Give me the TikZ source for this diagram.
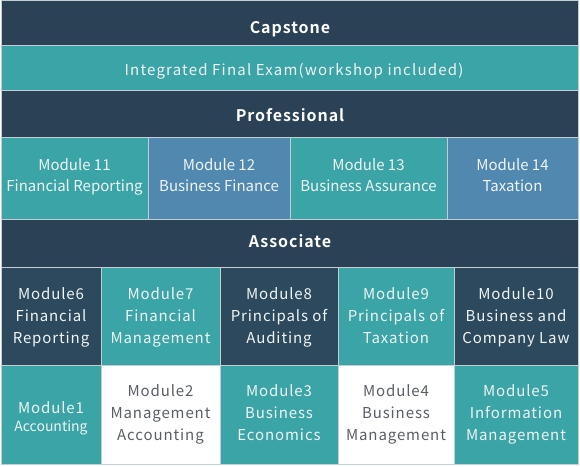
\documentclass[tikz,border=0pt]{standalone}
\usepackage{fontspec}
\setmainfont{Noto Sans CJK SC}
\newfontfamily\spaced[LetterSpace=6]{Noto Sans CJK SC}
\newfontfamily\wide[LetterSpace=8]{Noto Sans CJK SC}
\newfontfamily\headf[LetterSpace=6]{Noto Sans CJK SC Bold}
\definecolor{navy}{HTML}{2B4256}
\definecolor{navyb}{HTML}{2D495E}
\definecolor{teal}{HTML}{3AA4A7}
\definecolor{steel}{HTML}{5088B0}
\definecolor{frame}{HTML}{C5CDD4}
\definecolor{lighttxt}{HTML}{F0F5F5}
\definecolor{graytxt}{HTML}{5A5F66}
\tikzset{
  cell/.style={draw=frame, line width=1pt, inner sep=0pt, align=center, text=lighttxt,
    execute at end node={\strut}},
  band/.style={draw=frame, line width=1pt, inner sep=0pt, fill=navy},
  tealband/.style={band, fill=teal},
  headtxt/.style={anchor=base, inner sep=0pt, text=white, font=\headf\fontsize{16}{20}\selectfont},
  bandtxt/.style={anchor=base, inner sep=0pt, text=lighttxt, font=\wide\fontsize{15}{20}\selectfont},
  profteal/.style={cell, fill=teal, font=\fontsize{15}{21}\selectfont},
  profblue/.style={cell, fill=steel, font=\fontsize{15}{21}\selectfont},
  atxt/.style={inner sep=0pt, align=center, text=lighttxt, font=\spaced\fontsize{15}{22}\selectfont,
    execute at end node={\strut}},
  acell/.style={draw=frame, line width=1pt, inner sep=0pt},
  assocdark/.style={acell, fill=navyb},
  assocteal/.style={acell, fill=teal},
  assocwhite/.style={acell, fill=white},
  r1/.style={label={[atxt, yshift=-3]center:{#1}}},
  r2/.style={label={[atxt, yshift=-1]center:{#1}}},
  r2g/.style={label={[atxt, text=graytxt, yshift=-1]center:{#1}}},
}
\begin{document}
\begin{tikzpicture}[x=1pt,y=1pt]
\useasboundingbox[fill=white] (0,0) rectangle (580,-466);
% bands
\node[band, minimum width=577, minimum height=45] (cap) at (289.5,-22.5) {};
\node[headtxt] (captxt) at (290,-33) {Capstone};
\node[tealband, minimum width=577, minimum height=45] (ife) at (289.5,-67.5) {};
\node[bandtxt] (ifetxt) at (294,-75) {Integrated Final Exam(workshop included)};
\node[band, minimum width=577, minimum height=47] (prof) at (289.5,-113.5) {};
\node[headtxt] (proftxt) at (290,-121.5) {Professional};
% professional modules
\node[profteal, minimum width=147, minimum height=82] (m11) at (74.5,-178) {Module 11\\Financial Reporting};
\node[profblue, minimum width=142, minimum height=82] (m12) at (219,-178) {Module 12\\Business Finance};
\node[profteal, minimum width=157, minimum height=82] (m13) at (368.5,-178) {Module 13\\Business Assurance};
\node[profblue, minimum width=131, minimum height=82] (m14) at (512.5,-178) {Module 14\\Taxation};
\node[band, minimum width=577, minimum height=48] (assoc) at (289.5,-243) {};
\node[headtxt] (assoctxt) at (290,-247) {Associate};
% associate row 1
\node[assocdark, minimum width=100, minimum height=98, r1={Module6\\Financial\\Reporting}] (m6) at (51,-316) {};
\node[assocteal, minimum width=119, minimum height=98, r1={Module7\\Financial\\Management}] (m7) at (160.5,-316) {};
\node[assocdark, minimum width=118, minimum height=98, r1={Module8\\Principals of\\Auditing}] (m8) at (279,-316) {};
\node[assocteal, minimum width=116, minimum height=98, r1={Module9\\Principals of\\Taxation}] (m9) at (396,-316) {};
\node[assocdark, minimum width=124, minimum height=98, r1={Module10\\Business and\\Company Law}] (m10) at (516,-316) {};
% associate row 2
\node[assocteal, minimum width=100, minimum height=99,
  label={[atxt, font=\spaced\fontsize{15}{18}\selectfont, yshift=-4.5]center:{Module1\\{\normalfont\fontsize{14}{18}\selectfont Accounting}}}] (m1) at (51,-414.5) {};
\node[assocwhite, minimum width=119, minimum height=99, r2g={Module2\\Management\\Accounting}] (m2) at (160.5,-414.5) {};
\node[assocteal, minimum width=118, minimum height=99, r2={Module3\\Business\\Economics}] (m3) at (279,-414.5) {};
\node[assocwhite, minimum width=116, minimum height=99, r2g={Module4\\Business\\Management}] (m4) at (396,-414.5) {};
\node[assocteal, minimum width=124, minimum height=99, r2={Module5\\Information\\Management}] (m5) at (516,-414.5) {};
\end{tikzpicture}
\end{document}
